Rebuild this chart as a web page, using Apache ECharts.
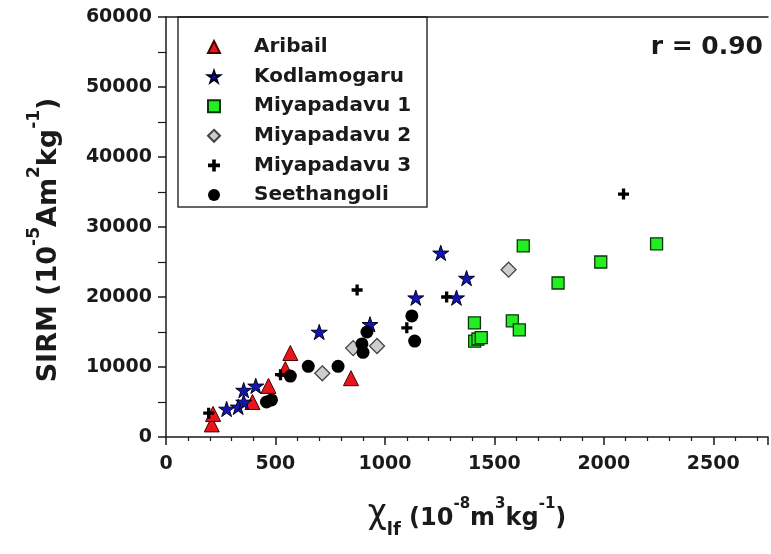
<!DOCTYPE html>
<html>
<head>
<meta charset="utf-8">
<script src="https://cdn.jsdelivr.net/npm/echarts@6/dist/echarts.min.js"></script>
<style>
  html, body { margin: 0; padding: 0; background: #fff; }
  #chart { width: 771px; height: 554px; }
</style>
</head>
<body>
<div id="chart"></div>
<script>
// values: [chi_lf, SIRM]
const aribail = [[209, 1800], [215, 3300], [395, 5000], [468, 7300], [545, 9700], [568, 12000], [845, 8400]];
const kodlamogaru = [[277, 4000], [330, 4300], [355, 5000], [355, 6700], [410, 7300], [700, 15000], [932, 16100],
  [1141, 19900], [1327, 19900], [1373, 22700], [1255, 26300]];
const miyapadavu1 = [[1632, 27300], [2241, 27600], [1986, 25000], [1791, 22000], [1409, 16300], [1582, 16600],
  [1614, 15300], [1410, 13700], [1425, 14000], [1440, 14200]];
const miyapadavu2 = [[714, 9100], [855, 12700], [964, 13000], [1565, 23900]];
const miyapadavu3 = [[195, 3400], [523, 8900], [873, 21000], [1100, 15600], [1282, 20000], [2090, 34700]];
const seethangoli = [[459, 5000], [482, 5300], [568, 8700], [650, 10100], [786, 10100], [895, 13300], [900, 12100],
  [918, 15000], [1123, 17300], [1136, 13700]];

const xTicks = [0, 500, 1000, 1500, 2000, 2500];

const F = "DejaVu Sans";
const ink = "#1a1a1a";
const star = "path://M50,0 L61.17,34.63 L97.55,34.55 L68.07,55.87 L79.39,90.45 L50,69 L20.61,90.45 L31.93,55.87 L2.45,34.55 L38.83,34.63 Z";
const plus = "path://M3.5,0H6.5V3.5H10V6.5H6.5V10H3.5V6.5H0V3.5H3.5Z";

const chart = echarts.init(document.getElementById("chart"));

function scatter(name, data, symbol, size, color, border, bw) {
  return {
    name: name,
    type: "scatter",
    data: data,
    symbol: symbol,
    symbolSize: size,
    symbolKeepAspect: true,
    itemStyle: { color: color, borderColor: border, borderWidth: bw, opacity: 1 },
    emphasis: { disabled: true }
  };
}

const axisLine = { show: true, lineStyle: { color: ink, width: 1.5 } };

var option = {
  animation: false,
  backgroundColor: "#fff",
  title: {
    text: "r = 0.90",
    right: 3,
    top: 30,
    textStyle: { fontFamily: F, fontSize: 25, fontWeight: "bold", color: ink }
  },
  grid: { left: 166, top: 17, right: 0, bottom: 117 },
  legend: {
    orient: "vertical",
    left: 202,
    top: 32,
    itemWidth: 12,
    itemHeight: 12,
    itemGap: 9.6,
    selectedMode: false,
    textStyle: { fontFamily: F, fontSize: 20, fontWeight: "bold", color: ink, lineHeight: 20, padding: [0, 0, 0, 29] },
    data: ["Aribail", "Kodlamogaru", "Miyapadavu 1", "Miyapadavu 2", "Miyapadavu 3", "Seethangoli"]
  },
  graphic: [{
    type: "rect",
    shape: { x: 178, y: 17, width: 249, height: 190 },
    style: { fill: "#fff", stroke: "#333", lineWidth: 1.5 },
    z: 0
  }],
  xAxis: [{
    type: "value",
    min: 0,
    max: 2750,
    interval: 500,
    splitLine: { show: false },
    axisLine: axisLine,
    axisTick: { show: true, length: 8, lineStyle: { color: ink, width: 1.5 } },
    minorTick: { show: true, splitNumber: 5, length: 4, lineStyle: { color: ink, width: 1.2 } },
    axisLabel: {
      margin: 18,
      fontFamily: F, fontSize: 19, fontWeight: "bold", color: ink,
      formatter: function (v) { return xTicks.indexOf(v) >= 0 ? String(v) : ""; }
    },
    name: "{c|\u03c7}{sub|lf}{b| (10}{s|-8}{b|m}{s|3}{b|kg}{s|-1}{b|)}",
    nameLocation: "middle",
    nameGap: 60,
    nameTextStyle: {
      rich: {
        c: { fontFamily: F, fontSize: 33, color: ink, lineHeight: 34, verticalAlign: "bottom" },
        sub: { fontFamily: F, fontSize: 18, fontWeight: "bold", color: ink, lineHeight: 14, verticalAlign: "bottom", padding: [0, 0, -8, 0] },
        b: { fontFamily: F, fontSize: 24, fontWeight: "bold", color: ink, lineHeight: 34, verticalAlign: "bottom" },
        s: { fontFamily: F, fontSize: 15, fontWeight: "bold", color: ink, lineHeight: 14, verticalAlign: "top" }
      }
    }
  }, {
    type: "value",
    position: "top",
    min: 0,
    max: 2750,
    axisLine: axisLine,
    axisTick: { show: false },
    axisLabel: { show: false },
    splitLine: { show: false }
  }],
  yAxis: {
    type: "value",
    min: 0,
    max: 60000,
    interval: 10000,
    splitLine: { show: false },
    axisLine: axisLine,
    axisTick: { show: true, length: 8, lineStyle: { color: ink, width: 1.5 } },
    minorTick: { show: true, splitNumber: 2, length: 8, lineStyle: { color: ink, width: 1.2 } },
    axisLabel: {
      margin: 14, fontFamily: F, fontSize: 19, fontWeight: "bold", color: ink,
      formatter: function (v) { return String(v); }
    },
    name: "{b|SIRM (10}{s|-5}{b|Am}{s|2}{b|kg}{s|-1}{b|)}",
    nameLocation: "middle",
    nameRotate: 90,
    nameGap: 104,
    nameTextStyle: {
      padding: [0, 26, 0, 0],
      rich: {
        b: { fontFamily: F, fontSize: 27, fontWeight: "bold", color: ink, lineHeight: 36, verticalAlign: "bottom" },
        s: { fontFamily: F, fontSize: 17, fontWeight: "bold", color: ink, lineHeight: 16, verticalAlign: "top" }
      }
    }
  },
  series: [
    scatter("Aribail", aribail, "triangle", 15, "#e8161c", "#4a0000", 1),
    scatter("Kodlamogaru", kodlamogaru, star, 16, "#1414b4", "#00001e", 1),
    scatter("Miyapadavu 1", miyapadavu1, "rect", 12, "#22ee22", "#0a350a", 1.3),
    scatter("Miyapadavu 2", miyapadavu2, "diamond", 15, "#cdcdcd", "#444", 1.3),
    scatter("Miyapadavu 3", miyapadavu3, plus, 11, "#000", "#000", 0),
    scatter("Seethangoli", seethangoli, "circle", 13, "#000", "#000", 0)
  ]
};

chart.setOption(option);
</script>
</body>
</html>
